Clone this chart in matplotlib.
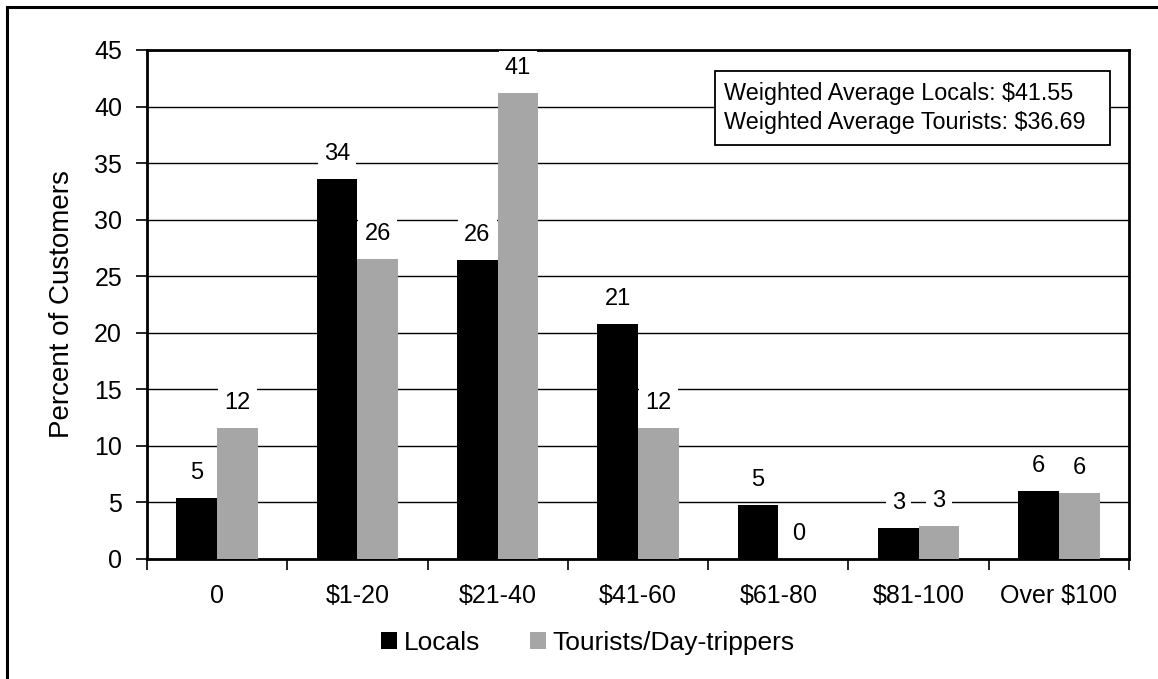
import matplotlib.pyplot as plt
import matplotlib.patches as mpatches
import numpy as np

plt.rcParams['font.family'] = ['Liberation Sans', 'DejaVu Sans']

categories = ['0', '$1-20', '$21-40', '$41-60', '$61-80', '$81-100', 'Over $100']
locals_pct = [5.4, 33.6, 26.4, 20.8, 4.8, 2.7, 6.0]
tourists_pct = [11.6, 26.5, 41.2, 11.6, 0.0, 2.9, 5.8]
locals_lbl = [5, 34, 26, 21, 5, 3, 6]
tourists_lbl = [12, 26, 41, 12, 0, 3, 6]
series_names = ['Locals', 'Tourists/Day-trippers']
note_lines = ['Weighted Average Locals: $41.55', 'Weighted Average Tourists: $36.69']

W, H = 1158, 679
fig = plt.figure(figsize=(W / 100, H / 100), dpi=100)
ax = fig.add_axes([147 / W, 1 - 559 / H, (1129 - 147) / W, (559 - 50) / H])

# outer frame (cut off at right and bottom like the source image)
fig.patches.append(mpatches.Rectangle((7 / W, -0.2), 1.5, 1.2 - 7 / H, transform=fig.transFigure,
                                      fill=False, edgecolor='black', linewidth=2.2))

x = np.arange(len(categories))
bw = 0.29
b1 = ax.bar(x - bw / 2, locals_pct, bw, color='black', zorder=3, label=series_names[0])
b2 = ax.bar(x + bw / 2, tourists_pct, bw, color='#a6a6a6', zorder=3, label=series_names[1])

for bars, labels in ((b1, locals_lbl), (b2, tourists_lbl)):
    for rect, lab in zip(bars, labels):
        ax.annotate(str(lab), (rect.get_x() + rect.get_width() / 2, rect.get_height()),
                    xytext=(0, 18), textcoords='offset points', ha='center', va='center',
                    fontsize=17, zorder=4, annotation_clip=False,
                    bbox=dict(facecolor='white', edgecolor='none', pad=4.5))

ax.set_xlim(-0.5, len(categories) - 0.5)
ax.set_ylim(0, 45)
ax.set_yticks(np.arange(0, 46, 5))
ax.yaxis.grid(True, color='black', linewidth=1, zorder=0)
ax.set_axisbelow(True)

ax.set_xticks(x)
ax.set_xticklabels(categories)
ax.set_xticks(np.arange(-0.5, len(categories), 1), minor=True)
ax.tick_params(axis='x', which='major', length=0, pad=18, labelsize=18)
ax.tick_params(axis='x', which='minor', length=8, width=1.2, direction='out')
ax.tick_params(axis='y', length=8, width=1.2, direction='out', pad=10, labelsize=18)

for s in ax.spines.values():
    s.set_linewidth(2)
    s.set_color('black')

ax.set_ylabel('Percent of Customers', fontsize=20, labelpad=14)

# text box with the weighted averages
ax.add_patch(mpatches.Rectangle((0.578, 0.813), 0.403, 0.146, transform=ax.transAxes,
                                facecolor='white', edgecolor='black', linewidth=1.3, zorder=5))
ax.text(0.588, 0.886, '\n'.join(note_lines), transform=ax.transAxes, fontsize=16.8,
        ha='left', va='center', linespacing=1.35, zorder=6)

fig.legend(handles=[b1, b2], loc='center', bbox_to_anchor=(588 / W, 1 - 643 / H), ncol=2,
           frameon=False, fontsize=19, handlelength=0.6, handleheight=0.6,
           handletextpad=0.25, columnspacing=1.9)

fig.savefig('out.png', dpi=100)
